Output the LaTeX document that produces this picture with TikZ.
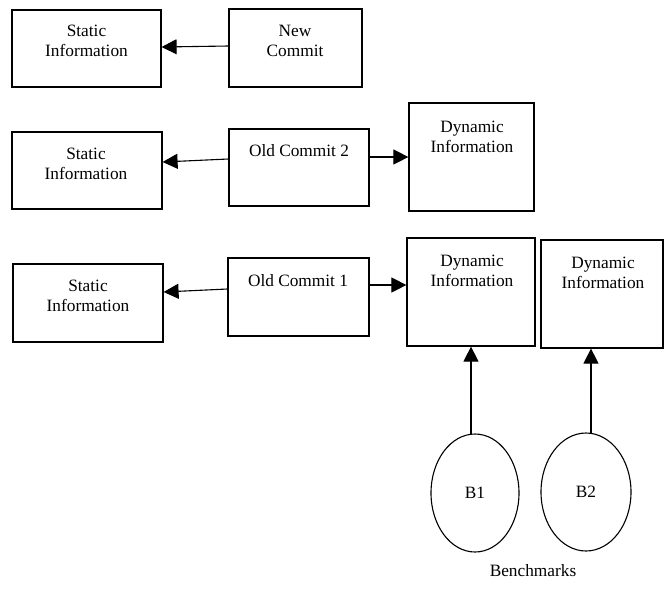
\documentclass[tikz,border=0pt]{standalone}
\usepackage{fontspec}
\setmainfont{Liberation Serif}
\usetikzlibrary{shapes.geometric,arrows.meta,calc}
\begin{document}
\begin{tikzpicture}[x=1pt,y=-1pt,
  box/.style={draw,line width=1.2pt,rectangle,inner sep=0pt},
  txt/.style={align=center,inner sep=0pt,font=\fontsize{17.3}{20}\selectfont},
  bench/.style={draw,line width=1.1pt,ellipse,inner sep=0pt,font=\fontsize{17.3}{20}\selectfont},
  arr/.style={line width=1.1pt,-{Triangle[length=15pt,width=15pt]}}]
\useasboundingbox (0,0) rectangle (665,590);
% row 1
\node[box,minimum width=149pt,minimum height=77pt] (S1) at (86.5,48.5) {};
\node[txt] (S1t) at (86.5,41) {Static\\Information};
\node[box,minimum width=133pt,minimum height=78pt] (N1) at (295.5,48) {};
\node[txt] (N1t) at (295,41) {New\\Commit};
\draw[arr] ($(N1.west)+(0,-2)$) -- ($(S1.east)+(0,-1.5)$);
% row 2
\node[box,minimum width=150pt,minimum height=77pt] (S2) at (87,170.5) {};
\node[txt] (S2t) at (86,164) {Static\\Information};
\node[box,minimum width=140pt,minimum height=77pt] (O2) at (299,167.5) {};
\node[txt] (O2t) at (299,151) {Old Commit 2};
\node[box,minimum width=125pt,minimum height=108pt] (D2) at (471.5,157) {};
\node[txt] (D2t) at (472,137) {Dynamic\\Information};
\draw[arr] ($(O2.west)+(0,-8.5)$) -- ($(S2.east)+(0,-8.5)$);
\draw[arr] ($(O2.east)+(0,-10.5)$) -- (D2.west);
% row 3
\node[box,minimum width=150pt,minimum height=78pt] (S3) at (88,303) {};
\node[txt] (S3t) at (88,295.5) {Static\\Information};
\node[box,minimum width=141pt,minimum height=78pt] (O1) at (298.5,297) {};
\node[txt] (O1t) at (298,281) {Old Commit 1};
\node[box,minimum width=128pt,minimum height=108pt] (DA) at (471,292) {};
\node[txt] (DAt) at (472,271) {Dynamic\\Information};
\node[box,minimum width=122pt,minimum height=108pt] (DB) at (602,294) {};
\node[txt] (DBt) at (603,273) {Dynamic\\Information};
\draw[arr] ($(O1.west)+(0,-8)$) -- ($(S3.east)+(0,-11)$);
\draw[arr] ($(O1.east)+(0,-12)$) -- ($(DA.west)+(0,-7)$);
% benchmarks
\node[bench,minimum width=88pt,minimum height=118pt] (B1) at (475,493) {B1};
\node[bench,minimum width=90pt,minimum height=118pt] (B2) at (586,492) {B2};
\coordinate (B1top) at ($(B1.north)+(-4,0.3)$);
\coordinate (B2top) at ($(B2.north)+(5,0.8)$);
\draw[arr] (B1top) -- (B1top |- DA.south);
\draw[arr] (B2top) -- (B2top |- DB.south);
\node[txt] (BM) at (533,571) {Benchmarks};
\end{tikzpicture}
\end{document}
